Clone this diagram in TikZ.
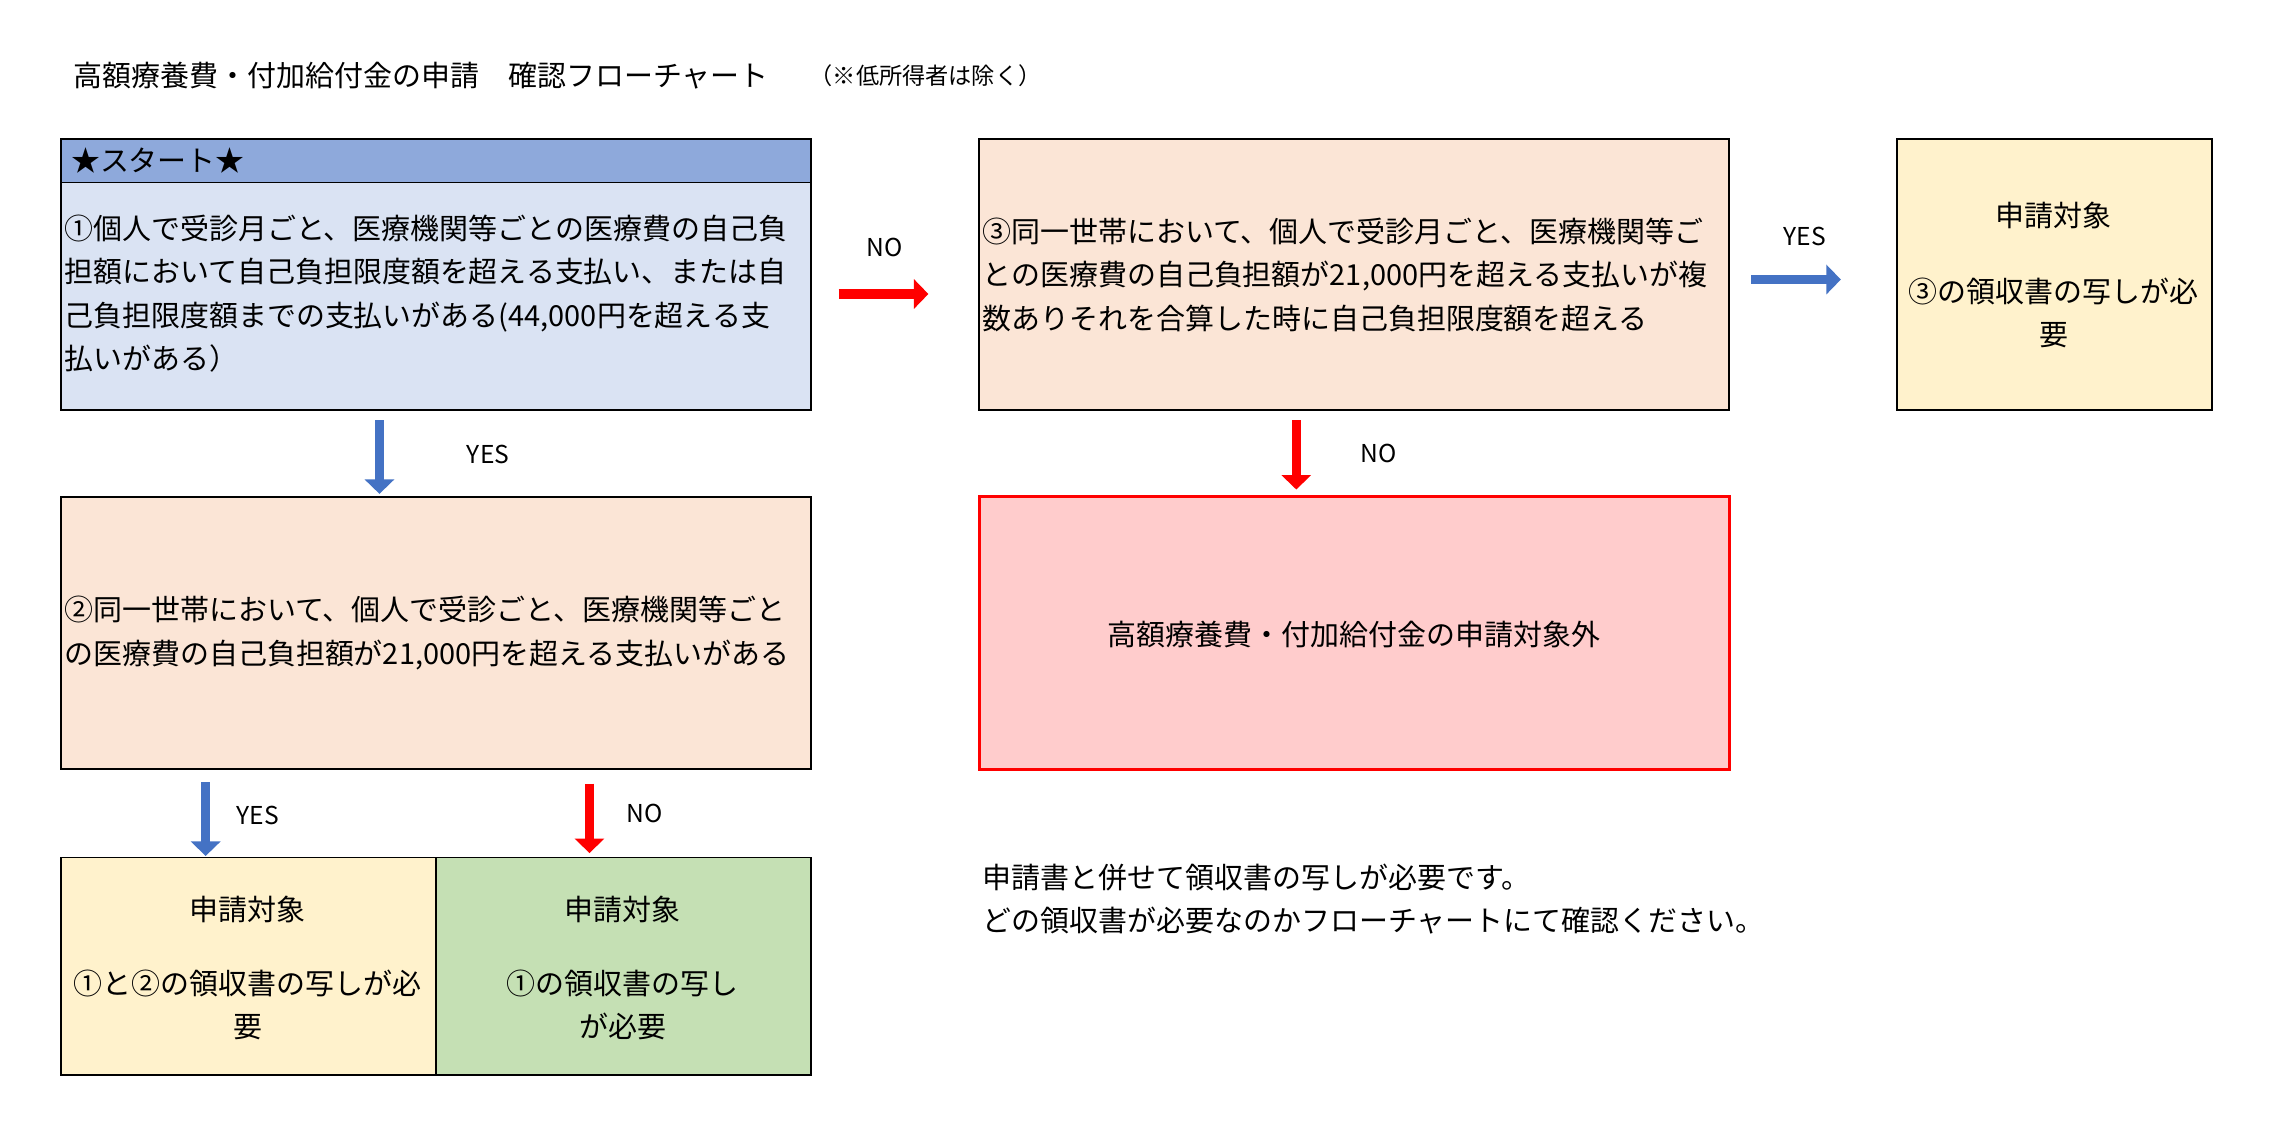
\documentclass[tikz,border=0pt]{standalone}
\usepackage{fontspec}
\setmainfont{Noto Sans CJK JP}
\usetikzlibrary{arrows.meta}
\definecolor{hdr}{HTML}{8EA9DB}
\definecolor{bl}{HTML}{DAE3F3}
\definecolor{pe}{HTML}{FBE5D6}
\definecolor{ye}{HTML}{FFF2CC}
\definecolor{gr}{HTML}{C5E0B4}
\definecolor{pk}{HTML}{FFCCCC}
\definecolor{ab}{HTML}{4472C4}
\begin{document}
\begin{tikzpicture}[x=0.5pt,y=-0.5pt,font=\fontsize{10}{15}\selectfont,
 boxst/.style={draw=black,line width=0.6pt},
 arr/.style={line width=3.2pt,-{Triangle[length=5pt,width=10pt]}},
 lbl/.style={font=\fontsize{8.5}{10}\selectfont}]
\useasboundingbox (0,0) rectangle (1568,780);
\fill[white] (0,0) rectangle (1568,780);
\node[anchor=west] (title) at (44,52) {高額療養費・付加給付金の申請　確認フローチャート};
\node[anchor=west,font=\fontsize{8}{10}\selectfont] (note) at (552,52) {（※低所得者は除く）};
% start
\draw[boxst,fill=hdr] (42,96) rectangle (560,126);
\node[anchor=west] (hd) at (42,111) {★スタート★};
\draw[boxst,fill=bl] (42,126) rectangle (560,283);
\node[anchor=north west,align=left,inner sep=0pt] (b1) at (44,148) {①個人で受診月ごと、医療機関等ごとの医療費の自己負\\担額において自己負担限度額を超える支払い、または自\\己負担限度額までの支払いがある(44,000円を超える支\\払いがある）};
% box2
\draw[boxst,fill=pe] (42,343) rectangle (560,531);
\node[anchor=west,align=left,inner sep=0pt] (b2) at (44,437) {②同一世帯において、個人で受診ごと、医療機関等ごと\\の医療費の自己負担額が21,000円を超える支払いがある};
% bottom
\draw[boxst,fill=ye] (42,592) rectangle (301,742);
\draw[boxst,fill=gr] (301,592) rectangle (560,742);
\node (t1) at (171,628) {申請対象};
\node[align=center] (t1b) at (171,694) {①と②の領収書の写しが必\\要};
\node (t2) at (430,628) {申請対象};
\node[align=center] (t2b) at (430,694) {①の領収書の写し\\が必要};
% box3
\draw[boxst,fill=pe] (676,96) rectangle (1194,283);
\node[anchor=north west,align=left,inner sep=0pt] (b3) at (678,150) {③同一世帯において、個人で受診月ごと、医療機関等ご\\との医療費の自己負担額が21,000円を超える支払いが複\\数ありそれを合算した時に自己負担限度額を超える};
\draw[boxst,fill=ye] (1310,96) rectangle (1527,283);
\node (t3) at (1418,149) {申請対象};
\node[align=center] (t3b) at (1418,216) {③の領収書の写しが必\\要};
\draw[draw=red,line width=1pt,fill=pk] (676,343) rectangle (1194,531);
\node (ex) at (935,438) {高額療養費・付加給付金の申請対象外};
% arrows
\coordinate (a1s) at (579,203); \coordinate (a1e) at (641,203);
\draw[arr,red] (a1s) -- (a1e);
\coordinate (a2s) at (1209,193); \coordinate (a2e) at (1271,193);
\draw[arr,ab] (a2s) -- (a2e);
\coordinate (a3s) at (262,290); \coordinate (a3e) at (262,341);
\draw[arr,ab] (a3s) -- (a3e);
\coordinate (a4s) at (895,290); \coordinate (a4e) at (895,338);
\draw[arr,red] (a4s) -- (a4e);
\coordinate (a5s) at (142,540); \coordinate (a5e) at (142,591);
\draw[arr,ab] (a5s) -- (a5e);
\coordinate (a6s) at (407,541); \coordinate (a6e) at (407,589);
\draw[arr,red] (a6s) -- (a6e);
\node[lbl] (l1) at (611,171) {NO};
\node[lbl] (l2) at (1246,163) {YES};
\node[lbl] (l3) at (337,314) {YES};
\node[lbl] (l4) at (952,313) {NO};
\node[lbl] (l5) at (178,563) {YES};
\node[lbl] (l6) at (445,562) {NO};
\node[anchor=north west,align=left,inner sep=0pt] (msg) at (678,596) {申請書と併せて領収書の写しが必要です。\\どの領収書が必要なのかフローチャートにて確認ください。};
\end{tikzpicture}
\end{document}
